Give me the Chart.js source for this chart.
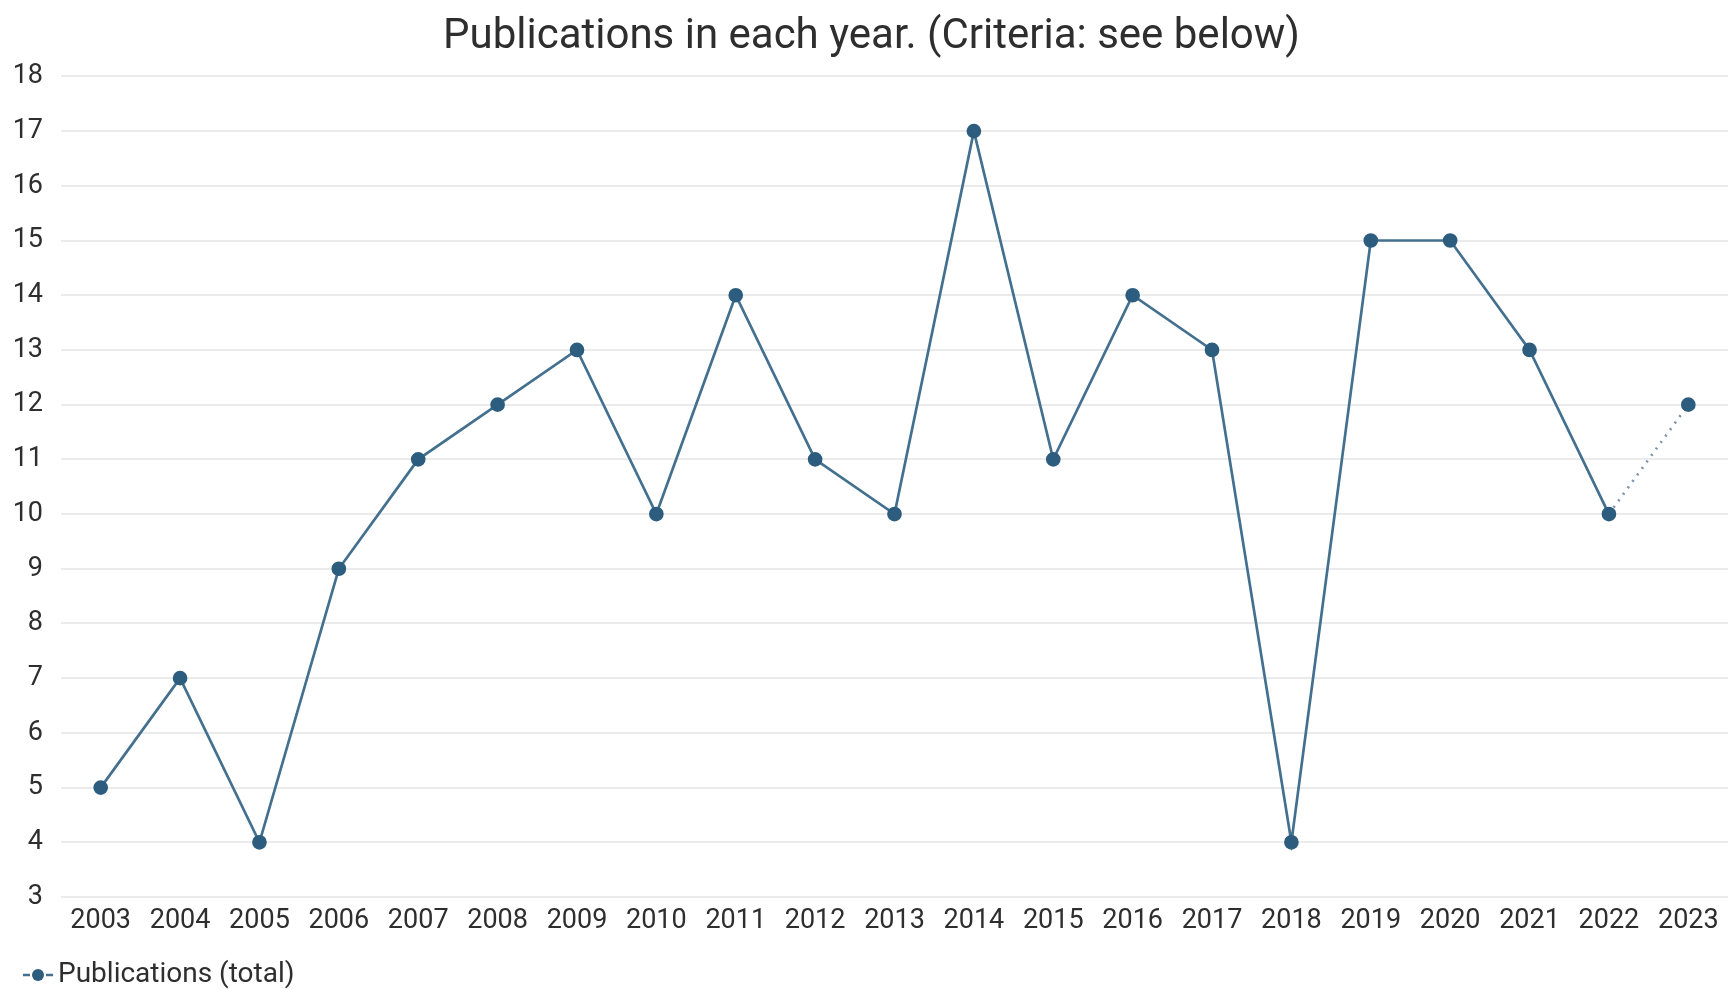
<!DOCTYPE html>
<html>
<head>
<meta charset="utf-8">
<script src="https://cdn.jsdelivr.net/npm/chart.js@4.4.1/dist/chart.umd.min.js"></script>
<style>
  html, body { margin: 0; padding: 0; background: #fff; }
  #wrap { width: 1728px; height: 989px; }
</style>
</head>
<body>
<div id="wrap"><canvas id="canvas"></canvas></div>
<script>
const years = ['2003', '2004', '2005', '2006', '2007', '2008', '2009', '2010', '2011', '2012', '2013',
               '2014', '2015', '2016', '2017', '2018', '2019', '2020', '2021', '2022', '2023'];
const publications = [5, 7, 4, 9, 11, 12, 13, 10, 14, 11, 10, 17, 11, 14, 13, 4, 15, 15, 13, 10, 12];
const yMin = 3;
const yMax = 18;

const lineColor = '#44708f';
const pointColor = '#2d5d7e';
const textColor = '#2e2e2e';

// legend marker "-●-"; the mark sits in the right part of the image
const marker = document.createElement('canvas');
marker.width = 48;
marker.height = 16;
const mctx = marker.getContext('2d');
mctx.strokeStyle = lineColor;
mctx.lineWidth = 2.5;
mctx.beginPath();
mctx.moveTo(17, 8); mctx.lineTo(24, 8);
mctx.moveTo(40, 8); mctx.lineTo(47, 8);
mctx.stroke();
mctx.fillStyle = pointColor;
mctx.beginPath();
mctx.arc(32, 8, 6, 0, Math.PI * 2);
mctx.fill();

const last = publications.length - 1;

const data = {
    labels: years,
    datasets: [
        {
            label: 'Publications (total)',
            data: publications,
            borderColor: lineColor,
            backgroundColor: pointColor,
            pointBackgroundColor: pointColor,
            pointBorderColor: pointColor,
            pointRadius: 6,
            borderWidth: 2.7,
            tension: 0,
            segment: {
                // the current year is still incomplete, so its segment is dotted
                borderDash: ctx => ctx.p1DataIndex === last ? [2, 6] : undefined,
                borderColor: ctx => ctx.p1DataIndex === last ? '#7f95a8' : undefined
            }
        }
    ]
};

const config = {
    type: 'line',
    data: data,
    options: {
        responsive: true,
        maintainAspectRatio: false,
        animation: false,
        layout: {
            autoPadding: false,
            padding: { left: 13, right: -2, top: 0, bottom: -10 }
        },
        plugins: {
            title: {
                display: true,
                text: 'Publications in each year. (Criteria: see below)',
                color: textColor,
                font: { family: 'Roboto', size: 42, weight: 'normal' },
                padding: { top: 12, bottom: 14 }
            },
            legend: {
                position: 'bottom',
                align: 'start',
                labels: {
                    usePointStyle: true,
                    pointStyleWidth: 28,
                    color: textColor,
                    font: { family: 'Roboto', size: 28 },
                    padding: 3,
                    generateLabels: chart => [{
                        text: 'Publications (total)',
                        pointStyle: marker,
                        fontColor: textColor,
                        lineWidth: 0,
                        datasetIndex: 0
                    }]
                }
            },
            tooltip: { enabled: false }
        },
        scales: {
            x: {
                offset: true,
                grid: { display: false },
                border: { display: false },
                ticks: {
                    color: textColor,
                    font: { family: 'Roboto', size: 27 },
                    padding: 0,
                    maxRotation: 0,
                    autoSkip: false
                },
                afterFit: axis => { axis.height = 61; }
            },
            y: {
                min: yMin,
                max: yMax,
                border: { display: false },
                grid: { color: '#ebebeb', lineWidth: 2, drawTicks: false },
                ticks: {
                    stepSize: 1,
                    color: textColor,
                    font: { family: 'Roboto', size: 27 },
                    padding: 18
                },
                afterFit: axis => { axis.width = 48; }
            }
        }
    }
};

const canvas = document.getElementById('canvas');
const chart = new Chart(canvas, config);
</script>
</body>
</html>
